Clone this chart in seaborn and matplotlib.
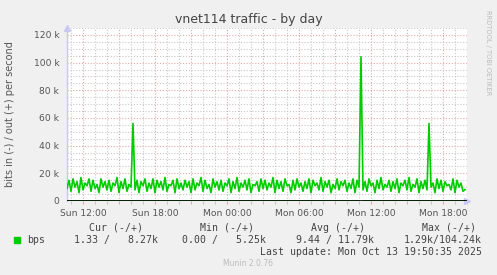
import numpy as np
import pandas as pd
import matplotlib
matplotlib.use("Agg")
import matplotlib.pyplot as plt
import seaborn as sns

# ---- data (hours since Sun 00:00, 10-minute steps starting Sun 10:40) ----
start_hour = 10 + 40 / 60
step_hour = 10 / 60
out_k = [
    9, 15, 7, 16, 10, 14, 6, 17, 8, 13, 11, 16, 7, 15, 9, 12, 6, 16, 10, 14,
    8, 15, 7, 13, 11, 17, 6, 14, 9, 16, 7, 12, 10, 56, 8, 15, 6, 14, 11, 16,
    7, 13, 9, 16, 6, 15, 10, 14, 8, 17, 7, 12, 11, 15, 6, 16, 9, 13, 8, 15,
    10, 14, 6, 16, 8, 13, 11, 17, 7, 15, 9, 12, 6, 16, 10, 14, 8, 15, 7, 13,
    11, 16, 6, 14, 9, 17, 7, 13, 10, 15, 8, 16, 6, 12, 11, 14, 7, 16, 9, 15,
    8, 13, 10, 17, 6, 15, 9, 14, 7, 16, 11, 12, 6, 15, 8, 16, 10, 13, 7, 14,
    9, 16, 6, 15, 11, 13, 8, 17, 7, 14, 10, 15, 6, 12, 9, 16, 8, 14, 11, 15,
    7, 13, 9, 16, 6, 15, 10, 104.2, 8, 14, 7, 16, 11, 13, 6, 15, 9, 17, 8, 12,
    10, 15, 7, 14, 9, 16, 6, 13, 11, 15, 8, 17, 7, 12, 10, 16, 6, 14, 9, 15,
    8, 56, 10, 13, 6, 16, 9, 15, 7, 14, 11, 12, 8, 16, 6, 15, 10, 13, 7, 8.3,
]
in_k = [0.0] * 147 + [1.29] + [0.0] * 52

xtick_pos = [12, 15, 18, 21, 24, 27, 30, 33, 36, 39, 42]
xtick_labels = ["Sun 12:00", "", "Sun 18:00", "", "Mon 00:00", "", "Mon 06:00", "",
                "Mon 12:00", "", "Mon 18:00"]
ytick_pos = [0, 20000, 40000, 60000, 80000, 100000, 120000]
ytick_labels = ["0", "20 k", "40 k", "60 k", "80 k", "100 k", "120 k"]

legend_headers = ["Cur (-/+)", "Min (-/+)", "Avg (-/+)", "Max (-/+)"]
legend_values = ["1.33 /   8.27k", "0.00 /   5.25k", "9.44 / 11.79k", "1.29k/104.24k"]

hours = [start_hour + i * step_hour for i in range(len(out_k))]
df = pd.DataFrame({"hour": hours,
                   "out": [v * 1000 for v in out_k],
                   "in": [-v * 1000 for v in in_k]})

# ---- figure ----
W, H = 497, 275
fig = plt.figure(figsize=(W / 100, H / 100), dpi=100, facecolor="#F0F0F0")
L, R, T, B = 67, 467, 28, 201
ax = fig.add_axes([L / W, 1 - B / H, (R - L) / W, (B - T) / H])
ax.set_facecolor("white")

ax.set_xlim(start_hour, 44.0)
ax.set_ylim(0, 125000)

# grid
minor_col = "#C8C8C8"
major_col = "#E4A8A8"
dots = (0, (1, 1.6))
for h in np.arange(11, 44.01, 1):
    if h % 3 != 0:
        ax.axvline(h, color=minor_col, lw=0.8, ls=dots, zorder=0)
for h in np.arange(12, 44.01, 3):
    ax.axvline(h, color=major_col, lw=0.8, ls=dots, zorder=0.5)
for yv in np.arange(5000, 125001, 5000):
    if yv % 20000 != 0:
        ax.axhline(yv, color=minor_col, lw=0.8, ls=dots, zorder=0)
for yv in np.arange(20000, 125001, 20000):
    ax.axhline(yv, color=major_col, lw=0.8, ls=dots, zorder=0.5)

sns.lineplot(data=df, x="hour", y="out", ax=ax, color="#00CC00", lw=1.2, zorder=3)
sns.lineplot(data=df, x="hour", y="in", ax=ax, color="#00CC00", lw=1.2, zorder=3)
ax.axhline(0, color="black", lw=1.2, zorder=4)

for s in ["top", "right"]:
    ax.spines[s].set_visible(False)
ax.spines["left"].set_color("#C8C8F0")
ax.spines["bottom"].set_visible(False)
ax.spines["left"].set_linewidth(1.0)
# axis arrows
ax.plot([0], [1.0], marker="^", color="#C8C8F0", ms=5, transform=ax.transAxes, clip_on=False)
ax.plot([1.0], [0], marker=">", color="#C8C8F0", ms=5, transform=ax.transAxes, clip_on=False)

ax.set_xticks(xtick_pos)
ax.set_xticklabels(xtick_labels)
ax.set_xticks(np.arange(11, 44.01, 1), minor=True)
ax.set_yticks(ytick_pos)
ax.set_yticklabels(ytick_labels)
ax.tick_params(axis="both", labelsize=6.6, labelcolor="#555555")
ax.tick_params(axis="y", length=0, pad=5.5)
ax.tick_params(axis="x", which="major", length=2, width=0.8, color="#E4A8A8", pad=3.5)
ax.tick_params(axis="x", which="minor", length=2, width=0.8, color="#C8C8C8")
ax.set_xlabel("")
ax.set_ylabel("")

fig.text(10 / W, 1 - 114.5 / H, "bits in (-) / out (+) per second", rotation=90,
         ha="center", va="center", fontsize=7, color="#555555")
fig.text(248.5 / W, 1 - 19 / H, "vnet114 traffic - by day", ha="center", va="center",
         fontsize=9, color="#444444")
fig.text(488 / W, 1 - 53 / H, "RRDTOOL / TOBI OETIKER", rotation=270, ha="center",
         va="center", fontsize=4.8, color="#BBBBBB")

mono = "DejaVu Sans Mono"
tc = "#444444"
hdr_x = [116, 227, 338, 449]
val_right = [158, 266, 374, 482]
for x, t in zip(hdr_x, legend_headers):
    fig.text(x / W, 1 - 228 / H, t, ha="center", va="center", family=mono, fontsize=7.1, color=tc)
fig.patches.append(matplotlib.patches.Rectangle((14 / W, 1 - 243 / H), 6 / W, 6 / H,
                                                 transform=fig.transFigure, color="#00CC00"))
fig.text(27 / W, 1 - 240 / H, "bps", ha="left", va="center", family=mono, fontsize=7.1, color=tc)
for x, t in zip(val_right, legend_values):
    fig.text(x / W, 1 - 240 / H, t, ha="right", va="center", family=mono, fontsize=7.1, color=tc)
fig.text(482 / W, 1 - 252 / H, "Last update: Mon Oct 13 19:50:35 2025", ha="right", va="center",
         family=mono, fontsize=7.1, color=tc)
fig.text(248 / W, 1 - 264 / H, "Munin 2.0.76", ha="center", va="center", fontsize=5.5, color="#BBBBBB")

fig.savefig("out.png", dpi=100, facecolor=fig.get_facecolor())
